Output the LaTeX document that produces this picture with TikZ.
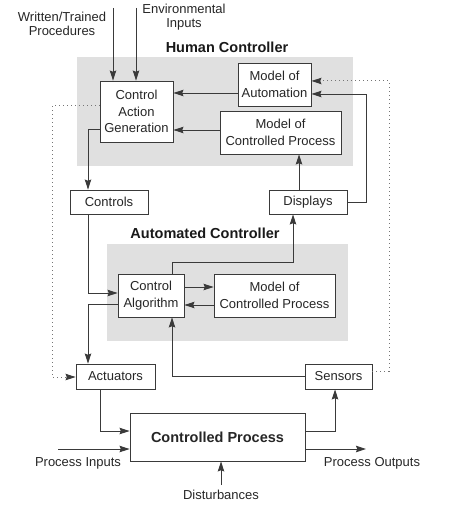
\documentclass[tikz,border=0pt]{standalone}
\usepackage{fontspec}
\setmainfont{Liberation Sans}
\usetikzlibrary{arrows.meta}
\definecolor{ln}{HTML}{3A3A3A}
\definecolor{panel}{HTML}{E0E0E0}
\begin{document}
\begin{tikzpicture}[x=1pt,y=-1pt,
  box/.style={draw=ln,fill=white,line width=0.9pt,inner sep=0pt,align=center,text=black!85,
    font=\fontsize{13}{16.5}\selectfont},
  lab/.style={inner sep=0pt,align=center,text=black!85,font=\fontsize{13}{14}\selectfont},
  title/.style={inner sep=0pt,text=black!90,font=\fontsize{14.5}{16}\selectfont\bfseries},
  wire/.style={draw=ln,line width=0.9pt},
  arr/.style={wire,-{Stealth[length=10pt,width=6.5pt,inset=1.2pt]}},
  dots/.style={draw=ln!70,line width=1pt,dash pattern=on 1pt off 3pt},
  darr/.style={dots,-{Stealth[length=10pt,width=6.5pt,inset=1.2pt,color=ln]}}
]
\useasboundingbox (0,0) rectangle (452,510);
% panels
\fill[panel] (77,57) rectangle (353,166);
\fill[panel] (107,244) rectangle (348,341);
\node[title] (hc) at (227,47) {Human Controller};
\node[title] (ac) at (205,233) {Automated Controller};
% boxes
\node[box,minimum width=73pt,minimum height=61pt] (cag) at (136.5,111.5) {Control\\Action\\Generation};
\node[box,minimum width=73pt,minimum height=43pt] (moa) at (274.5,84.5) {Model of\\Automation};
\node[box,minimum width=121pt,minimum height=43pt] (mcph) at (280.5,132.5) {Model of\\Controlled Process};
\node[box,minimum width=78pt,minimum height=24pt] (ctl) at (109,202) {Controls};
\node[box,minimum width=78pt,minimum height=24pt] (dsp) at (308,202) {Displays};
\node[box,minimum width=66pt,minimum height=43pt] (ca) at (151,295.5) {Control\\Algorithm};
\node[box,minimum width=121pt,minimum height=43pt] (mcpa) at (274.5,295.5) {Model of\\Controlled Process};
\node[box,minimum width=79pt,minimum height=25pt] (act) at (115.5,376.5) {Actuators};
\node[box,minimum width=67pt,minimum height=25pt] (sen) at (338.5,376.5) {Sensors};
\node[box,minimum width=175pt,minimum height=48pt,font=\fontsize{14.5}{16}\selectfont\bfseries] (cp) at (217.5,437) {Controlled Process};
% labels
\node[lab] (wtp) at (62,24) {Written/Trained\\Procedures};
\node[lab] (env) at (184,17) {Environmental\\Inputs};
\node[lab] (pin) at (78,463) {Process Inputs};
\node[lab] (pout) at (372,463) {Process Outputs};
\node[lab] (dist) at (221,495) {Disturbances};
\coordinate (wtin) at (113,8);
\coordinate (envin) at (136,8);
\coordinate (pinS) at (58,449);
\coordinate (poutE) at (366,449);
\coordinate (distS) at (221,485);
% connectors
\draw[arr] (wtin) -- (wtin |- cag.north);
\draw[arr] (envin) -- (envin |- cag.north);
\draw[arr] (moa.west |- 0,93) -- (cag.east |- 0,93);
\draw[arr] (mcph.west |- 0,130) -- (cag.east |- 0,130);
\draw[darr] (cag.west |- 0,106) -- (52,106) -- (52,377) -- (act.west |- 0,377);
\draw[darr] (sen.east |- 0,371) -- (389,371) -- (389,81) -- (moa.east |- 0,81);
\draw[arr] (dsp.east) -- (366,202) -- (366,94) -- (moa.east |- 0,94);
\draw[arr] (dsp.north -| 299,0) -- (mcph.south -| 299,0);
\draw[arr] (cag.west |- 0,129) -- (88,129) -- (ctl.north -| 88,0);
\draw[arr] (ctl.south -| 88,0) -- (88,293) -- (ca.west |- 0,293);
\draw[arr] (ca.east |- 0,287) -- (mcpa.west |- 0,287);
\draw[arr] (mcpa.west |- 0,305) -- (ca.east |- 0,305);
\draw[arr] (ca.west |- 0,304) -- (88,304) -- (act.north -| 88,0);
\draw[arr] (ca.north -| 172,0) -- (172,262) -- (293,262) -- (dsp.south -| 293,0);
\draw[arr] (sen.west) -- (172,376.5) -- (ca.south -| 172,0);
\draw[arr] (act.south -| 100,0) -- (100,431) -- (cp.west |- 0,431);
\draw[arr] (pinS) -- (cp.west |- pinS);
\draw[arr] (cp.east |- 0,431) -- (335,431) -- (sen.south -| 335,0);
\draw[arr] (cp.east |- poutE) -- (poutE);
\draw[arr] (distS) -- (cp.south -| distS);
\end{tikzpicture}
\end{document}
